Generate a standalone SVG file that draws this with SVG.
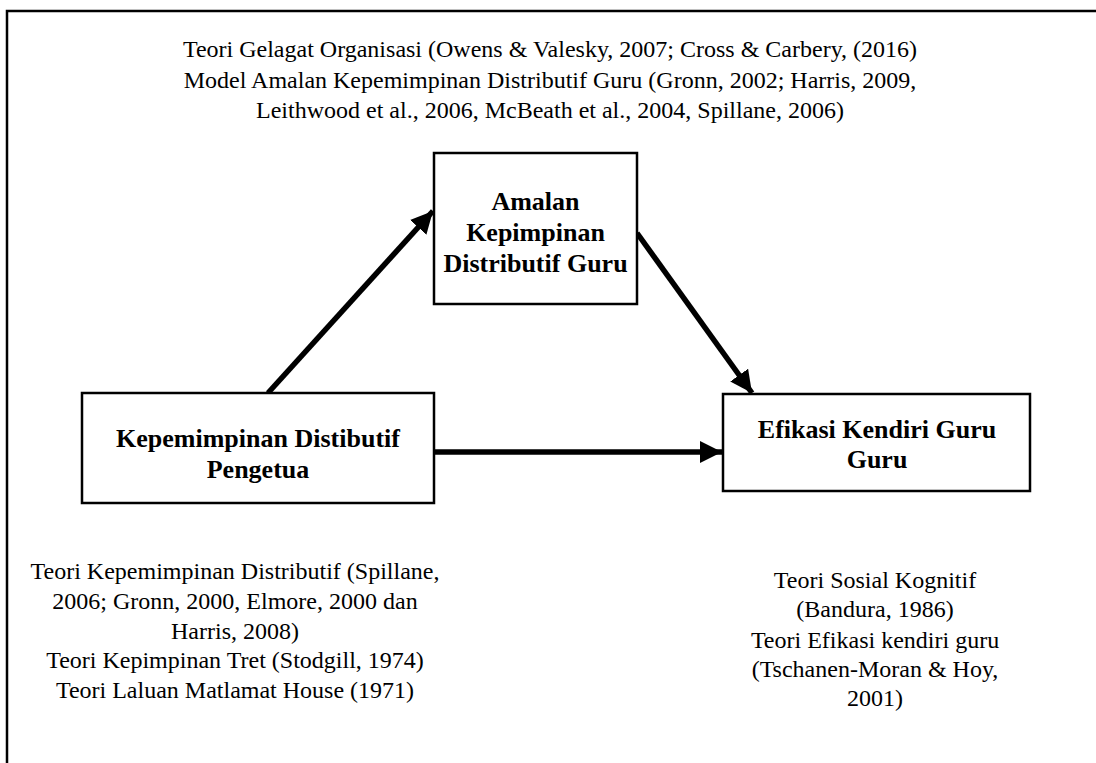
<svg xmlns="http://www.w3.org/2000/svg" width="1096" height="763" viewBox="0 0 1096 763">
  <style>
    .frame { fill: none; stroke: #000; stroke-width: 2.5; }
    .box { fill: #fff; stroke: #000; stroke-width: 2.5; }
    .label { font-family: "Liberation Serif", "Times New Roman", serif; font-size: 24px; fill: #000; text-anchor: middle; }
    .title { font-family: "Liberation Serif", "Times New Roman", serif; font-size: 26px; font-weight: bold; fill: #000; text-anchor: middle; }
    .link { fill: none; stroke: #000; stroke-width: 5.5; }
  </style>
  <defs>
    <marker id="head" markerUnits="userSpaceOnUse" markerWidth="24" markerHeight="22" refX="22" refY="11" orient="auto">
      <path d="M0,0 L22,11 L0,22 Z" fill="#000"/>
    </marker>
  </defs>

  <rect width="1096" height="763" fill="#fff"/>

  <!-- outer frame (open at the bottom and right) -->
  <path class="frame" d="M7,763 L7,11 L1096,11"/>

  <!-- theory notes -->
  <g id="notes-top">
    <text class="label" x="550" y="57">Teori Gelagat Organisasi (Owens &amp; Valesky, 2007; Cross &amp; Carbery, (2016)</text>
    <text class="label" x="550" y="88">Model Amalan Kepemimpinan Distributif Guru (Gronn, 2002; Harris, 2009,</text>
    <text class="label" x="550" y="118">Leithwood et al., 2006, McBeath et al., 2004, Spillane, 2006)</text>
  </g>
  <g id="notes-left">
    <text class="label" x="235" y="579">Teori Kepemimpinan Distributif (Spillane,</text>
    <text class="label" x="235" y="609">2006; Gronn, 2000, Elmore, 2000 dan</text>
    <text class="label" x="235" y="639">Harris, 2008)</text>
    <text class="label" x="235" y="668">Teori Kepimpinan Tret (Stodgill, 1974)</text>
    <text class="label" x="235" y="698">Teori Laluan Matlamat House (1971)</text>
  </g>
  <g id="notes-right">
    <text class="label" x="875" y="588">Teori Sosial Kognitif</text>
    <text class="label" x="875" y="617">(Bandura, 1986)</text>
    <text class="label" x="875" y="648">Teori Efikasi kendiri guru</text>
    <text class="label" x="875" y="677">(Tschanen-Moran &amp; Hoy,</text>
    <text class="label" x="875" y="706">2001)</text>
  </g>

  <!-- connectors -->
  <g id="connectors">
    <line class="link" x1="268" y1="393" x2="433" y2="211" marker-end="url(#head)"/>
    <line class="link" x1="637" y1="233" x2="752" y2="393" marker-end="url(#head)"/>
    <line class="link" x1="435" y1="452" x2="722" y2="452" marker-end="url(#head)"/>
  </g>

  <!-- nodes -->
  <g id="node-amalan">
    <rect class="box" x="434" y="153" width="203" height="151"/>
    <text class="title" x="535.5" y="210">Amalan</text>
    <text class="title" x="535.5" y="241">Kepimpinan</text>
    <text class="title" x="535.5" y="272">Distributif Guru</text>
  </g>
  <g id="node-pengetua">
    <rect class="box" x="82" y="393" width="352" height="110"/>
    <text class="title" x="258" y="447">Kepemimpinan Distibutif</text>
    <text class="title" x="258" y="478">Pengetua</text>
  </g>
  <g id="node-efikasi">
    <rect class="box" x="723" y="394" width="307" height="97"/>
    <text class="title" x="877" y="438">Efikasi Kendiri Guru</text>
    <text class="title" x="877" y="468">Guru</text>
  </g>
</svg>
